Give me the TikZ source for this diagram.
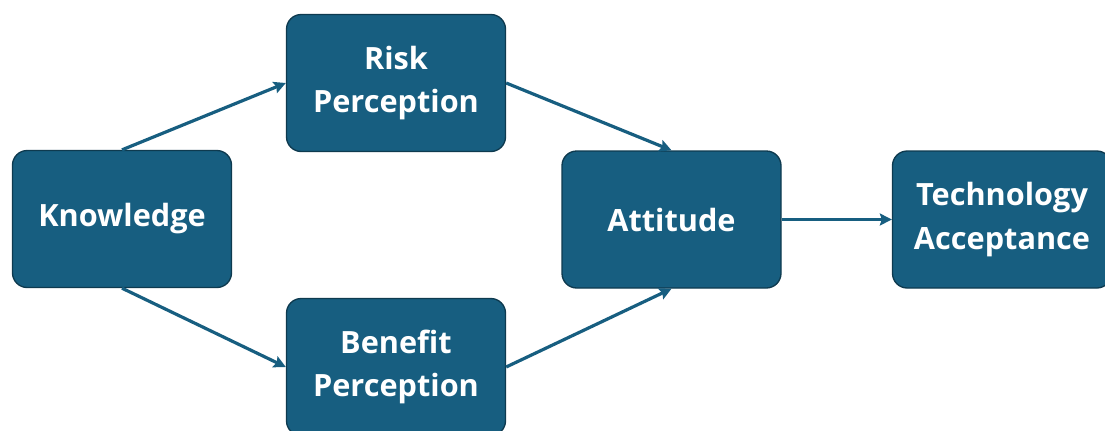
\documentclass[tikz,border=0pt]{standalone}
\usepackage{fontspec}
\setmainfont{Open Sans}[UprightFont=* Bold]
\usetikzlibrary{arrows.meta}
\definecolor{boxfill}{HTML}{175E80}
\definecolor{boxline}{HTML}{0E3A4F}
\begin{document}
\begin{tikzpicture}[x=0.75pt,y=-0.75pt,
  box/.style={draw=boxline,line width=1pt,fill=boxfill,rounded corners=11pt,
    minimum width=219*0.75pt,minimum height=137*0.75pt,text=white,align=center,
    font=\fontsize{23}{32.5}\selectfont,inner sep=0pt},
  conn/.style={draw=boxfill,line width=2.4pt,-{Stealth[length=9pt,width=9pt,inset=1.5pt]}}]
\useasboundingbox (0,0) rectangle (1105,430);
\clip (0,0) rectangle (1105,430);
\node[box] (k) at (122,219) {Knowledge};
\node[box] (r) at (396,83) {Risk\\Perception};
\node[box] (b) at (396,367) {Benefit\\Perception};
\node[box] (a) at (671.5,219.5) {Attitude};
\node[box] (t) at (1002,219.5) {Technology\\Acceptance};
\draw[conn] (k.north) -- (r.west);
\draw[conn] (k.south) -- (b.west);
\draw[conn] (r.east) -- (a.north);
\draw[conn] (b.east) -- (a.south);
\draw[conn] (a.east) -- (t.west);
\end{tikzpicture}
\end{document}
